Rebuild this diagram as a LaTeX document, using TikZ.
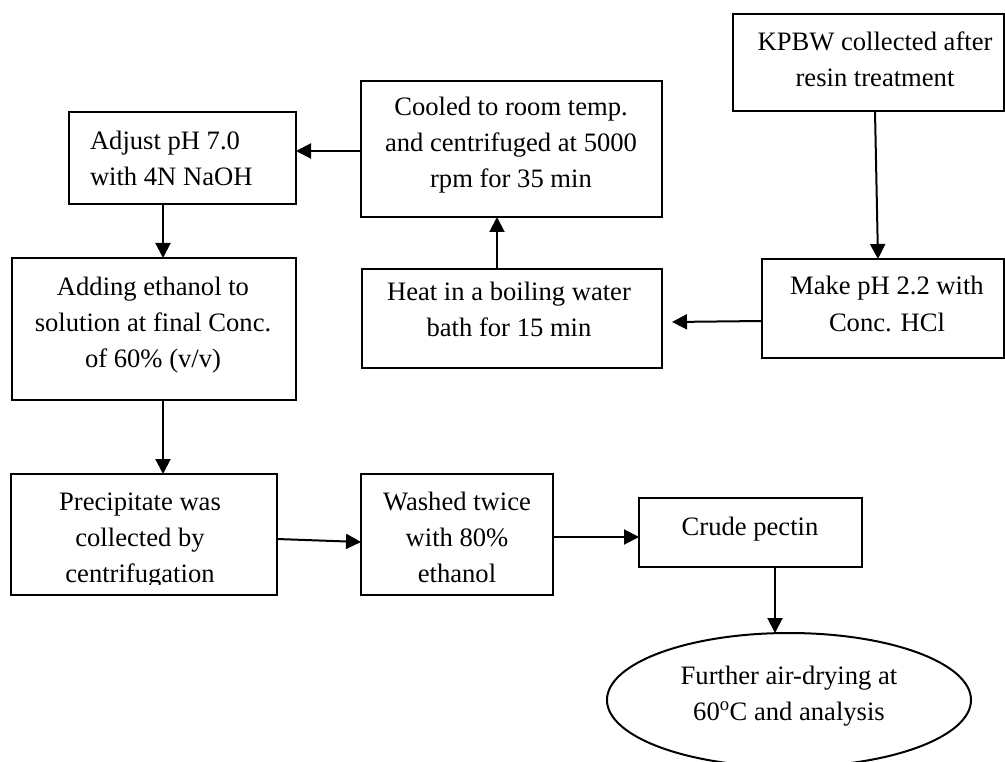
\documentclass[tikz,border=0pt]{standalone}
\usepackage{fontspec}
\setmainfont{Liberation Serif}
\usetikzlibrary{arrows.meta,shapes.geometric,calc}
\newcommand{\myfs}{\rule{0pt}{20pt}}
\begin{document}
\begin{tikzpicture}[x=1pt,y=-1pt,
  box/.style={draw,line width=2pt,rectangle,inner sep=0pt,outer sep=0pt},
  oval/.style={draw,line width=2pt,ellipse,inner sep=0pt,outer sep=0pt},
  txt/.style={font=\fontsize{26.6}{36}\selectfont,inner sep=0pt,outer sep=0pt,anchor=north,align=center},
  arr/.style={line width=2pt,-{Triangle[length=15pt,width=15pt]}}]
\fill[white] (0,0) rectangle (1005,762);
\useasboundingbox (0,0) rectangle (1005,762);

% boxes
\node[box,minimum width=271pt,minimum height=97pt] (kpbw) at (868.5,62.5) {};
\node[box,minimum width=242pt,minimum height=99pt] (mkph) at (883,308.5) {};
\node[box,minimum width=300pt,minimum height=99pt] (heat) at (512,318.5) {};
\node[box,minimum width=301pt,minimum height=136pt] (cooled) at (511.5,149) {};
\node[box,minimum width=227pt,minimum height=92pt] (adjust) at (182.5,158) {};
\node[box,minimum width=284pt,minimum height=142pt] (adding) at (154,329) {};
\node[box,minimum width=266pt,minimum height=121pt] (precip) at (144,534.5) {};
\node[box,minimum width=192pt,minimum height=121pt] (washed) at (457,534.5) {};
\node[box,minimum width=223pt,minimum height=69pt] (crude) at (750.5,532.5) {};
\node[oval,minimum width=364pt,minimum height=134pt] (dry) at (789,700) {};

% texts
\node[txt] (tkpbw) at (875,31) {\myfs KPBW collected after\\resin treatment};
\node[txt] (tmkph) at (887,275) {\myfs Make pH 2.2 with\\Conc. HCl};
\node[txt] (theat) at (509,281) {\myfs Heat in a boiling water\\bath for 15 min};
\node[txt] (tcooled) at (511,96) {\myfs Cooled to room temp.\\and centrifuged at 5000\\rpm for 35 min};
\node[txt,anchor=north west,align=left] (tadjust) at (90,130) {\myfs Adjust pH 7.0\\with 4N NaOH};
\node[txt] (tadding) at (153,275) {\myfs Adding ethanol to\\solution at final Conc.\\of 60\% (v/v)};
\begin{scope}
\clip (12,475) rectangle (276,584.5);
\node[txt] (tprecip) at (140,490) {\myfs Precipitate was\\collected by\\centrifugation};
\end{scope}
\node[txt] (twashed) at (457,490) {\myfs Washed twice\\with 80\%\\ethanol};
\node[txt] (tcrude) at (750,515) {\myfs Crude pectin};
\node[txt] (tdry) at (789,664) {\myfs Further air-drying at\\60\textsuperscript{o}C and analysis};

% connectors
\coordinate (hend) at (672,322);
\draw[arr] ($(kpbw.south)+(6.5,0)$) -- ($(mkph.north)+(-5,0)$);
\draw[arr] ($(mkph.west)+(0,12.5)$) -- (hend);
\draw[arr] ($(heat.north)+(-15,0)$) -- ($(cooled.south)+(-14.5,0)$);
\draw[arr] ($(cooled.west)+(0,2)$) -- ($(adjust.east)+(0,-7)$);
\draw[arr] ($(adjust.south)+(-19.5,0)$) -- ($(adding.north)+(9,0)$);
\draw[arr] ($(adding.south)+(9,0)$) -- ($(precip.north)+(19,0)$);
\draw[arr] ($(precip.east)+(0,4.5)$) -- ($(washed.west)+(0,7.5)$);
\draw[arr] ($(washed.east)+(0,2.5)$) -- ($(crude.west)+(0,4.5)$);
\draw[arr] ($(crude.south)+(24.5,0)$) -- ($(dry.north)+(-14,0)$);
\end{tikzpicture}
\end{document}
